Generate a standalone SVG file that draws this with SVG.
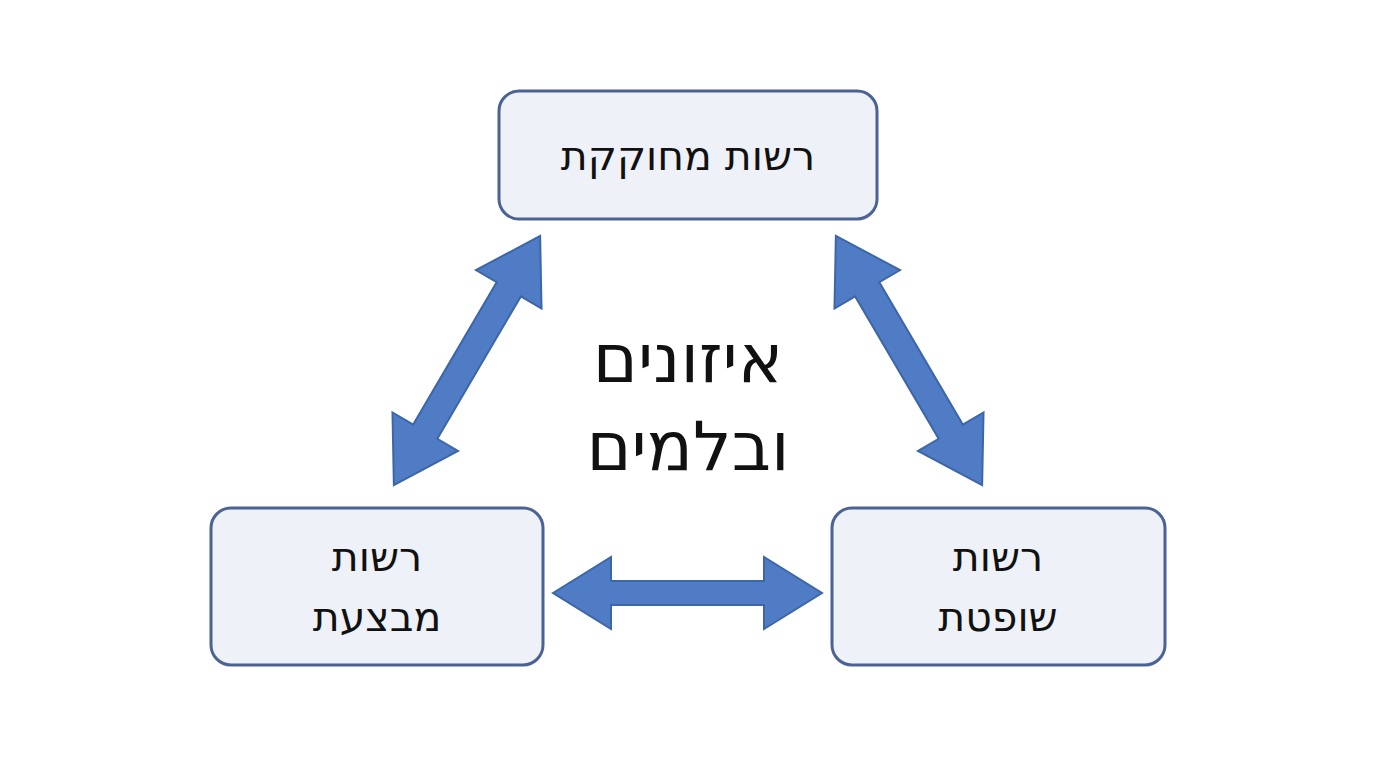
<svg xmlns="http://www.w3.org/2000/svg" width="1376" height="768" viewBox="0 0 1376 768">
<style>
.box{fill:#eef1f7;stroke:#4a6394;stroke-width:3}
.t{font-family:"DejaVu Sans","Noto Sans",sans-serif;font-size:41px;fill:#111;text-anchor:middle}
.c{font-family:"DejaVu Sans","Noto Sans",sans-serif;font-size:68px;fill:#111;text-anchor:middle}
.arr{fill:#4f7cc4;stroke:#3d66a8;stroke-width:2;stroke-linejoin:miter}
</style>
<rect width="1376" height="768" fill="#fff"/>
<g id="connectors">
<polygon class="arr" transform="translate(467,360.5) rotate(-59.6) translate(-144.5,0)" points="0,0 62,-38 62,-14 227,-14 227,-38 289,0 227,38 227,14 62,14 62,38"/>
<polygon class="arr" transform="translate(909,360.5) rotate(59.6) translate(-144.5,0)" points="0,0 62,-38 62,-14 227,-14 227,-38 289,0 227,38 227,14 62,14 62,38"/>
<polygon class="arr" transform="translate(553,593)" points="0,0 58,-36 58,-12 211,-12 211,-36 269,0 211,36 211,12 58,12 58,36"/>
</g>
<g id="center"><text class="c" x="688" y="382">איזונים</text><text class="c" x="688" y="470">ובלמים</text></g>
<g id="legislative"><rect class="box" x="499" y="91" width="378" height="128" rx="20"/><text class="t" x="688" y="170">רשות מחוקקת</text></g>
<g id="executive"><rect class="box" x="211" y="508" width="332" height="157" rx="20"/><text class="t" x="377" y="571">רשות</text><text class="t" x="377" y="631">מבצעת</text></g>
<g id="judicial"><rect class="box" x="832" y="508" width="333" height="157" rx="20"/><text class="t" x="998" y="571">רשות</text><text class="t" x="998" y="631">שופטת</text></g>
</svg>
